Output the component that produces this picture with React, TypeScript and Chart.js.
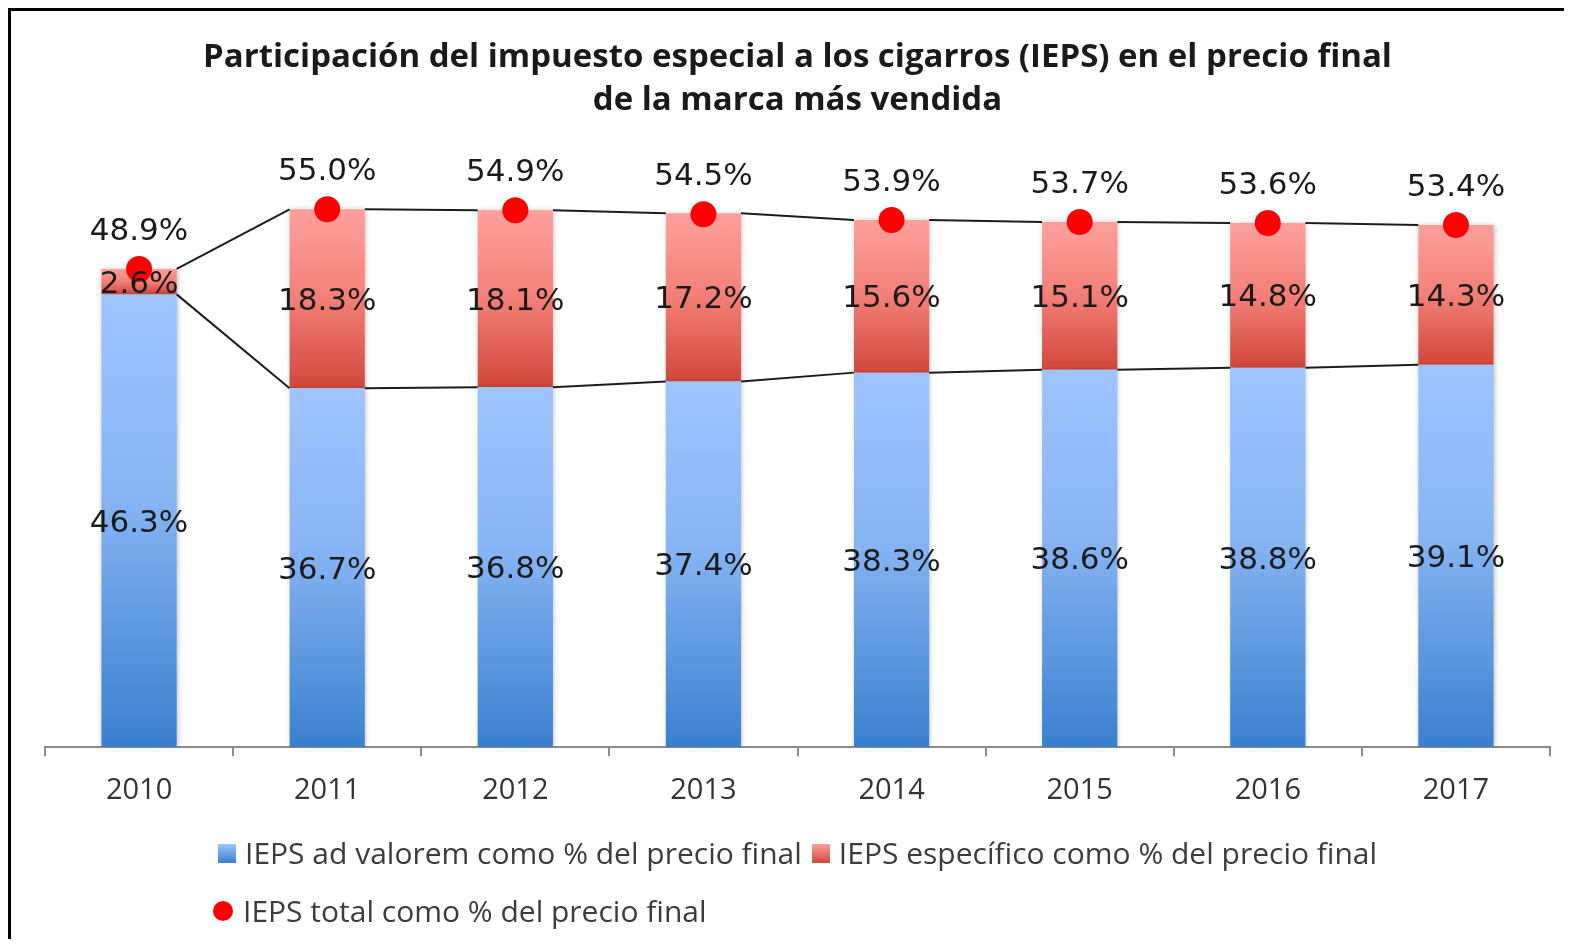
import React, { useEffect, useRef } from "react";
import { Chart, registerables } from "chart.js";

Chart.register(...registerables);

const years = ["2010", "2011", "2012", "2013", "2014", "2015", "2016", "2017"];
const adValorem = [46.3, 36.7, 36.8, 37.4, 38.3, 38.6, 38.8, 39.1];
const especifico = [2.6, 18.3, 18.1, 17.2, 15.6, 15.1, 14.8, 14.3];
const total = [48.9, 55.0, 54.9, 54.5, 53.9, 53.7, 53.6, 53.4];
const titleLines = [
  "Participación del impuesto especial a los cigarros (IEPS) en el precio final",
  "de la marca más vendida",
];
const seriesNames = [
  "IEPS ad valorem como % del precio final",
  "IEPS específico como % del precio final",
  "IEPS total como % del precio final",
];

const BLUE_STOPS: [number, string][] = [
  [0, "#9fc5ff"],
  [0.45, "#86b4f3"],
  [1, "#3a80cf"],
];
const RED_STOPS: [number, string][] = [
  [0, "#ffa09d"],
  [0.5, "#f27f77"],
  [1, "#d1473a"],
];

function makeGradient(chart: any, from: number, to: number, stops: [number, string][]) {
  const y = chart.scales && chart.scales.y;
  if (!y || !chart.chartArea) return stops[stops.length - 1][1];
  const top = y.getPixelForValue(to);
  const bottom = y.getPixelForValue(from);
  if (!isFinite(top) || !isFinite(bottom) || top === bottom) return stops[stops.length - 1][1];
  const g = chart.ctx.createLinearGradient(0, top, 0, bottom);
  stops.forEach(([o, c]) => g.addColorStop(o, c));
  return g;
}

function drawSeriesLines(chart: any) {
  const ctx = chart.ctx;
  ctx.save();
  ctx.strokeStyle = "#1c1c1c";
  ctx.lineWidth = 2;
  [0, 1].forEach((di) => {
    const meta = chart.getDatasetMeta(di);
    for (let i = 0; i < meta.data.length - 1; i++) {
      const a = meta.data[i].getProps(["x", "y", "width"], true);
      const b = meta.data[i + 1].getProps(["x", "y", "width"], true);
      ctx.beginPath();
      ctx.moveTo(a.x + a.width / 2, a.y);
      ctx.lineTo(b.x - b.width / 2, b.y);
      ctx.stroke();
    }
  });
  ctx.restore();
}

const iepsPlugin = {
  id: "iepsDecor",
  beforeDatasetDraw(chart: any, args: any) {
    if (args.meta.type === "bar") {
      const ctx = chart.ctx;
      ctx.save();
      ctx.shadowColor = "rgba(0,0,0,0.25)";
      ctx.shadowBlur = 5;
      ctx.shadowOffsetX = 1;
      ctx.shadowOffsetY = 0;
    }
  },
  afterDatasetDraw(chart: any, args: any) {
    if (args.meta.type === "bar") {
      chart.ctx.restore();
      if (args.index === 0) drawSeriesLines(chart);
    }
  },
  afterDatasetsDraw(chart: any) {
    const ctx = chart.ctx;
    ctx.save();
    ctx.font = '31px "DejaVu Sans"';
    ctx.fillStyle = "#1a1a1a";
    ctx.textAlign = "center";
    ctx.textBaseline = "middle";
    const segs = [adValorem, especifico];
    segs.forEach((vals, di) => {
      const meta = chart.getDatasetMeta(di);
      meta.data.forEach((el: any, i: number) => {
        const p = el.getProps(["x", "y", "base"], true);
        ctx.fillText(vals[i].toFixed(1) + "%", p.x, (p.y + p.base) / 2 + 3);
      });
    });
    const dm = chart.getDatasetMeta(2);
    dm.data.forEach((el: any, i: number) => {
      const p = el.getProps(["x", "y"], true);
      ctx.fillText(total[i].toFixed(1) + "%", p.x, p.y - 37);
    });
    ctx.restore();
  },
};

export default function App() {
  const canvasRef = useRef<HTMLCanvasElement | null>(null);

  useEffect(() => {
    if (!canvasRef.current) return;
    const chart = new Chart(canvasRef.current, {
      type: "bar",
      data: {
        labels: years,
        datasets: [
          {
            type: "bar",
            label: seriesNames[0],
            data: adValorem,
            stack: "ieps",
            order: 1,
            barPercentage: 0.8,
            categoryPercentage: 0.5,
            borderWidth: 0,
            backgroundColor: (c: any) =>
              c.dataIndex === undefined
                ? "#6fa5ea"
                : makeGradient(c.chart, 0, adValorem[c.dataIndex], BLUE_STOPS),
          } as any,
          {
            type: "bar",
            label: seriesNames[1],
            data: especifico,
            stack: "ieps",
            order: 1,
            barPercentage: 0.8,
            categoryPercentage: 0.5,
            borderWidth: 0,
            backgroundColor: (c: any) =>
              c.dataIndex === undefined
                ? "#ec7068"
                : makeGradient(
                    c.chart,
                    adValorem[c.dataIndex],
                    adValorem[c.dataIndex] + especifico[c.dataIndex],
                    RED_STOPS
                  ),
          } as any,
          {
            type: "line",
            label: seriesNames[2],
            data: total,
            stack: "total",
            order: 0,
            showLine: false,
            pointRadius: 13,
            pointHoverRadius: 13,
            pointBackgroundColor: "#ff0000",
            pointBorderWidth: 0,
            borderColor: "#ff0000",
            clip: false,
          } as any,
        ],
      },
      options: {
        animation: false,
        responsive: true,
        maintainAspectRatio: false,
        layout: { padding: { left: 34, right: 14, top: 0, bottom: 114 } },
        plugins: {
          legend: { display: false },
          tooltip: { enabled: false },
          title: {
            display: true,
            text: titleLines,
            color: "#1a1a1a",
            font: { family: "Open Sans", size: 33, weight: "bold", lineHeight: 43 / 33 },
            padding: { top: 25, bottom: 38.4 },
          },
        },
        scales: {
          x: {
            stacked: true,
            offset: true,
            grid: {
              display: true,
              drawOnChartArea: false,
              drawTicks: true,
              tickLength: 9,
              color: "#8a8a8a",
              lineWidth: 2,
              offset: true,
            },
            border: { display: true, color: "#8a8a8a", width: 2 },
            ticks: {
              color: "#333333",
              padding: 17,
              font: { family: "Open Sans", size: 29 },
            },
          },
          y: {
            stacked: true,
            display: false,
            min: 0,
            max: 60,
          },
        },
      },
      plugins: [iepsPlugin],
    });
    return () => chart.destroy();
  }, []);

  const legendText: React.CSSProperties = {
    fontFamily: '"Open Sans"',
    fontSize: 30,
    color: "#3c3c3c",
    lineHeight: "40px",
    whiteSpace: "nowrap",
  };

  return (
    <div
      style={{
        position: "relative",
        width: 1556,
        height: 931,
        borderTop: "3px solid #000",
        borderLeft: "3px solid #000",
        boxSizing: "border-box",
        background: "#fff",
      }}
    >
      <div style={{ position: "absolute", left: 0, top: 0, width: 1553, height: 928 }}>
        <canvas ref={canvasRef} />
      </div>
      <div
        style={{
          position: "absolute",
          left: 207,
          top: 822,
          height: 40,
          display: "flex",
          alignItems: "center",
        }}
      >
        <span
          style={{
            display: "inline-block",
            width: 18,
            height: 19,
            marginRight: 9,
            background: `linear-gradient(to bottom, ${BLUE_STOPS[0][1]}, ${BLUE_STOPS[2][1]})`,
          }}
        />
        <span style={legendText}>{seriesNames[0]}</span>
        <span
          style={{
            display: "inline-block",
            width: 18,
            height: 19,
            marginLeft: 10,
            marginRight: 9,
            background: `linear-gradient(to bottom, ${RED_STOPS[0][1]}, ${RED_STOPS[2][1]})`,
          }}
        />
        <span style={legendText}>{seriesNames[1]}</span>
      </div>
      <div
        style={{
          position: "absolute",
          left: 202,
          top: 880,
          height: 40,
          display: "flex",
          alignItems: "center",
        }}
      >
        <span
          style={{
            display: "inline-block",
            width: 20,
            height: 20,
            borderRadius: "50%",
            marginRight: 10,
            background: "#ff0000",
          }}
        />
        <span style={legendText}>{seriesNames[2]}</span>
      </div>
    </div>
  );
}
